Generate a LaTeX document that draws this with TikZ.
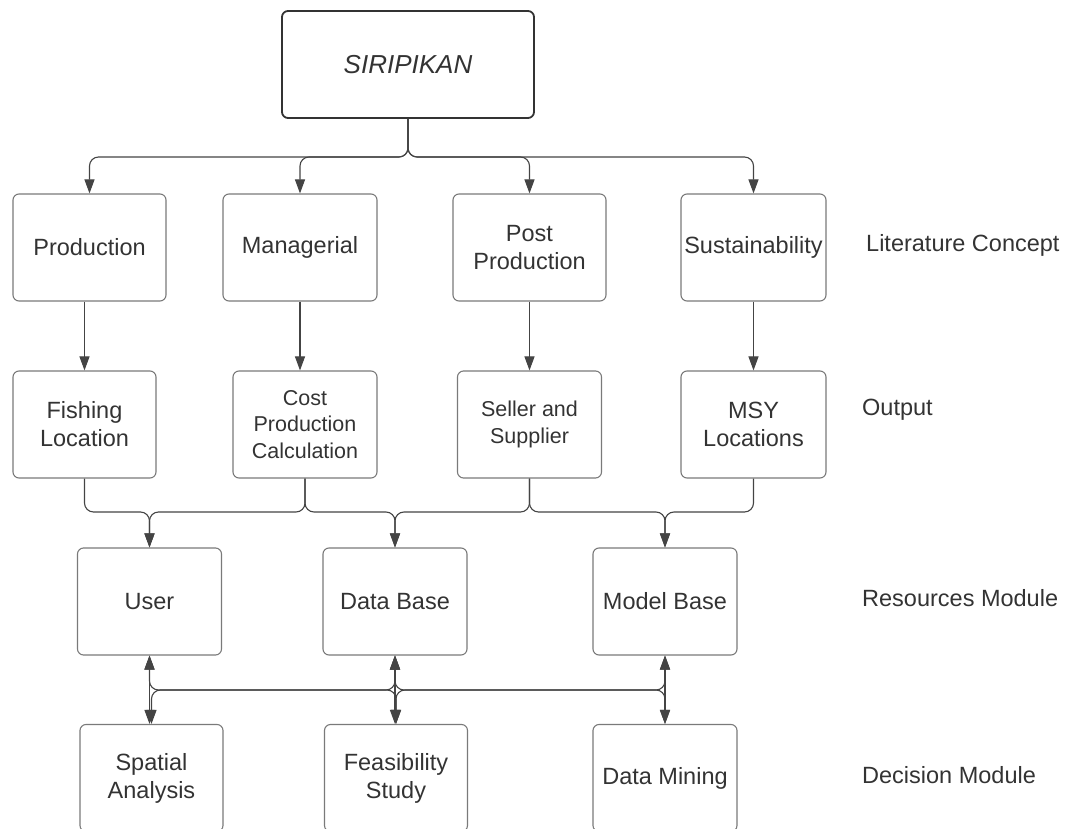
\documentclass[tikz,border=0pt]{standalone}
\usepackage{fontspec}
\setmainfont{Liberation Sans}
\usetikzlibrary{arrows.meta,calc}
\definecolor{txt}{HTML}{333333}
\definecolor{bord}{HTML}{7A7A7A}
\definecolor{ln}{HTML}{444444}
\begin{document}
\begin{tikzpicture}[x=1pt,y=-1pt,
  box/.style={draw=bord,line width=1.1pt,rounded corners=6pt,rectangle,align=center,
    text=txt,font=\fontsize{23.5}{28}\selectfont,inner sep=0pt,minimum height=107pt},
  smallbox/.style={box,font=\fontsize{21.5}{26.5}\selectfont},
  topbox/.style={box,draw=txt,line width=1.8pt,font=\fontsize{26}{30}\selectfont\itshape},
  lbl/.style={anchor=west,text=txt,font=\fontsize{23.5}{28}\selectfont,inner sep=0pt},
  conn/.style={draw=ln,line width=1.1pt,rounded corners=9pt},
  tip/.tip={Triangle[length=14pt,width=10pt]},
  arr/.style={conn,-tip},
  darr/.style={conn,tip-tip}]
\useasboundingbox (0,0) rectangle (1072,829);
% nodes
\node[topbox,minimum width=252pt] (sir) at (408,64.5) {SIRIPIKAN};
\node[box,minimum width=153pt] (prod) at (89.5,247.5) {Production};
\node[box,minimum width=154pt] (man) at (300,247.5) {Managerial};
\node[box,minimum width=153pt] (post) at (529.5,247.5) {Post\\Production};
\node[box,minimum width=145pt] (sus) at (753.5,247.5) {Sustainability};
\node[box,minimum width=143pt] (fish) at (84.5,424.5) {Fishing\\Location};
\node[smallbox,minimum width=144pt] (cost) at (305,424.5) {Cost\\Production\\Calculation};
\node[smallbox,minimum width=144pt] (sell) at (529.5,424.5) {Seller and\\Supplier};
\node[box,minimum width=145pt] (msy) at (753.5,424.5) {MSY\\Locations};
\node[box,minimum width=144pt] (user) at (149.5,601.5) {User};
\node[box,minimum width=144pt] (db) at (395,601.5) {Data Base};
\node[box,minimum width=144pt] (mb) at (665,601.5) {Model Base};
\node[box,minimum width=143pt] (spa) at (151.5,778) {Spatial\\Analysis};
\node[box,minimum width=143pt] (feas) at (396,778) {Feasibility\\Study};
\node[box,minimum width=144pt] (dm) at (665,778) {Data Mining};
% side labels
\node[lbl] (l1) at (866,245) {Literature Concept};
\node[lbl] (l2) at (862,410) {Output};
\node[lbl] (l3) at (862,598) {Resources Module};
\node[lbl] (l4) at (862,775) {Decision Module};
% buses
\coordinate (b1) at (0,157);
\coordinate (b2) at (0,512);
\coordinate (b3) at (0,690);
% top to literature
\draw[arr] (sir.south) |- (prod.north |- b1) -- (prod.north);
\draw[arr] (sir.south) |- (man.north |- b1) -- (man.north);
\draw[arr] (sir.south) |- (post.north |- b1) -- (post.north);
\draw[arr] (sir.south) |- (sus.north |- b1) -- (sus.north);
% literature to output
\draw[arr] (prod.south -| fish.north) -- (fish.north);
\draw[arr] (man.south) -- (man.south |- cost.north);
\draw[arr] (post.south -| sell.north) -- (sell.north);
\draw[arr] (sus.south) -- (sus.south |- msy.north);
% output to resources
\draw[arr] (fish.south) |- (user.north |- b2) -- (user.north);
\draw[arr] (cost.south) |- (user.north |- b2) -- (user.north);
\draw[arr] (cost.south) |- (db.north |- b2) -- (db.north);
\draw[arr] (sell.south) |- (db.north |- b2) -- (db.north);
\draw[arr] (sell.south) |- (mb.north |- b2) -- (mb.north);
\draw[arr] (msy.south) |- (mb.north |- b2) -- (mb.north);
% resources to decision
\draw[darr] (user.south) -- (user.south |- spa.north);
\draw[darr] (db.south) -- (db.south |- feas.north);
\draw[darr] (mb.south) -- (mb.south |- dm.north);
\draw[darr] (user.south) |- (feas.north |- b3) -- (feas.north);
\draw[darr] (spa.north) |- (db.south |- b3) -- (db.south);
\draw[darr] (db.south) |- (dm.north |- b3) -- (dm.north);
\draw[darr] (mb.south) |- (feas.north |- b3) -- (feas.north);
\end{tikzpicture}
\end{document}
